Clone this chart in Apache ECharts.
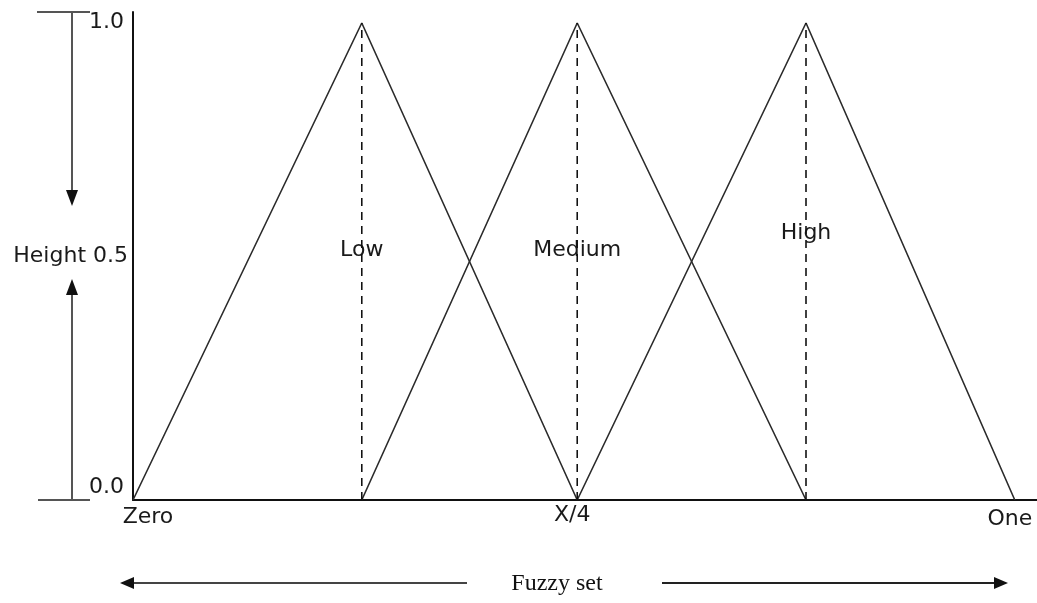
<!DOCTYPE html>
<html>
<head>
<meta charset="utf-8">
<script src="https://cdn.jsdelivr.net/npm/echarts@6/dist/echarts.min.js"></script>
<style>
  html, body { margin: 0; padding: 0; background: #fff; }
  #chart { width: 1037px; height: 603px; }
</style>
</head>
<body>
<div id="chart"></div>
<script>
// triangle membership functions (x, membership)
var lowPts = [[0, 0], [1.03, 1], [2, 0]];
var mediumPts = [[1.03, 0], [2, 1], [3.03, 0]];
var highPts = [[2, 0], [3.03, 1], [3.97, 0]];
// dashed centre lines
var peakX = [1.03, 2, 3.03];
// set names and where they sit
var setNames = ['Low', 'Medium', 'High'];
var setLabelY = [0.524, 0.524, 0.56];
// axis ticks
var xTickValues = [0, 2, 3.97];
var xTickNames = ['Zero', 'X/4', 'One'];
var yTickValues = [0, 1];

var textFont = 'DejaVu Sans';
var fs = 22;
var lineColor = '#2b2b2b';

var chart = echarts.init(document.getElementById('chart'));

var series = [];
[lowPts, mediumPts, highPts].forEach(function (pts) {
  series.push({
    type: 'line',
    data: pts,
    symbol: 'none',
    silent: true,
    lineStyle: { color: lineColor, width: 1.6 }
  });
});
peakX.forEach(function (x) {
  series.push({
    type: 'line',
    data: [[x, 0], [x, 1]],
    symbol: 'none',
    silent: true,
    lineStyle: { color: '#111', width: 1.6, type: [8, 6] }
  });
});
series.push({
  type: 'scatter',
  symbolSize: 1,
  silent: true,
  itemStyle: { opacity: 0 },
  data: peakX.map(function (x, i) { return [x, setLabelY[i], setNames[i]]; }),
  label: {
    show: true,
    position: 'inside',
    opacity: 1,
    formatter: function (p) { return p.data[2]; },
    color: '#1a1a1a',
    fontFamily: textFont,
    fontSize: fs
  }
});

var option = {
  animation: false,
  grid: { left: 133, right: 0, top: 12, bottom: 103, containLabel: false, outerBoundsMode: 'none' },
  xAxis: {
    type: 'value',
    min: 0,
    max: 4.07,
    name: 'Fuzzy set',
    nameLocation: 'middle',
    nameGap: 72,
    nameTextStyle: {
      fontFamily: 'Liberation Serif',
      fontSize: 24,
      color: '#111',
      padding: [0, 56, 0, 0]
    },
    axisLine: { lineStyle: { color: '#111', width: 2 } },
    axisTick: { show: false },
    splitLine: { show: false },
    axisLabel: {
      customValues: xTickValues,
      margin: 4,
      formatter: function (v) {
        var i = xTickValues.indexOf(v);
        if (i === 0) return '{a|' + xTickNames[i] + '}';
        if (i === 2) return '{c|' + xTickNames[i] + '}';
        return '{b|' + xTickNames[i] + '}';
      },
      rich: {
        a: { fontFamily: textFont, fontSize: fs, color: '#1a1a1a', padding: [2, 0, 0, 30] },
        b: { fontFamily: textFont, fontSize: fs, color: '#1a1a1a', padding: [0, 10, 0, 0] },
        c: { fontFamily: textFont, fontSize: fs, color: '#1a1a1a', padding: [4, 10, 0, 0] }
      }
    }
  },
  yAxis: {
    type: 'value',
    min: 0,
    max: 1.023,
    name: 'Height 0.5',
    nameLocation: 'middle',
    nameRotate: 0,
    nameGap: 5,
    nameMoveOverlap: false,
    nameTextStyle: {
      fontFamily: textFont,
      fontSize: fs,
      color: '#1a1a1a',
      align: 'right',
      padding: [4, 0, 0, 0]
    },
    axisLine: { show: true, lineStyle: { color: '#111', width: 2 } },
    axisTick: { show: false },
    splitLine: { show: false },
    axisLabel: {
      customValues: yTickValues,
      margin: 9,
      formatter: function (v) {
        return v === 0 ? '{lo|0.0}' : '{hi|1.0}';
      },
      rich: {
        lo: { fontFamily: textFont, fontSize: fs, color: '#1a1a1a', padding: [0, 0, 26, 0] },
        hi: { fontFamily: textFont, fontSize: fs, color: '#1a1a1a', padding: [0, 0, 2, 0] }
      }
    }
  },
  graphic: [
    // height indicator on the left
    { type: 'line', shape: { x1: 37, y1: 12, x2: 90, y2: 12 }, style: { stroke: '#555', lineWidth: 2 } },
    { type: 'line', shape: { x1: 38, y1: 500, x2: 90, y2: 500 }, style: { stroke: '#555', lineWidth: 2 } },
    { type: 'line', shape: { x1: 72, y1: 12, x2: 72, y2: 192 }, style: { stroke: '#555', lineWidth: 2 } },
    { type: 'polygon', shape: { points: [[66, 190], [78, 190], [72, 206]] }, style: { fill: '#111' } },
    { type: 'line', shape: { x1: 72, y1: 293, x2: 72, y2: 500 }, style: { stroke: '#555', lineWidth: 2 } },
    { type: 'polygon', shape: { points: [[66, 295], [78, 295], [72, 279]] }, style: { fill: '#111' } },
    // fuzzy set arrows along the bottom
    { type: 'line', shape: { x1: 132, y1: 583, x2: 467, y2: 583 }, style: { stroke: '#444', lineWidth: 2 } },
    { type: 'polygon', shape: { points: [[120, 583], [134, 577], [134, 589]] }, style: { fill: '#111' } },
    { type: 'line', shape: { x1: 662, y1: 583, x2: 996, y2: 583 }, style: { stroke: '#222', lineWidth: 2 } },
    { type: 'polygon', shape: { points: [[1008, 583], [994, 577], [994, 589]] }, style: { fill: '#111' } }
  ],
  series: series
};

chart.setOption(option);
</script>
</body>
</html>
